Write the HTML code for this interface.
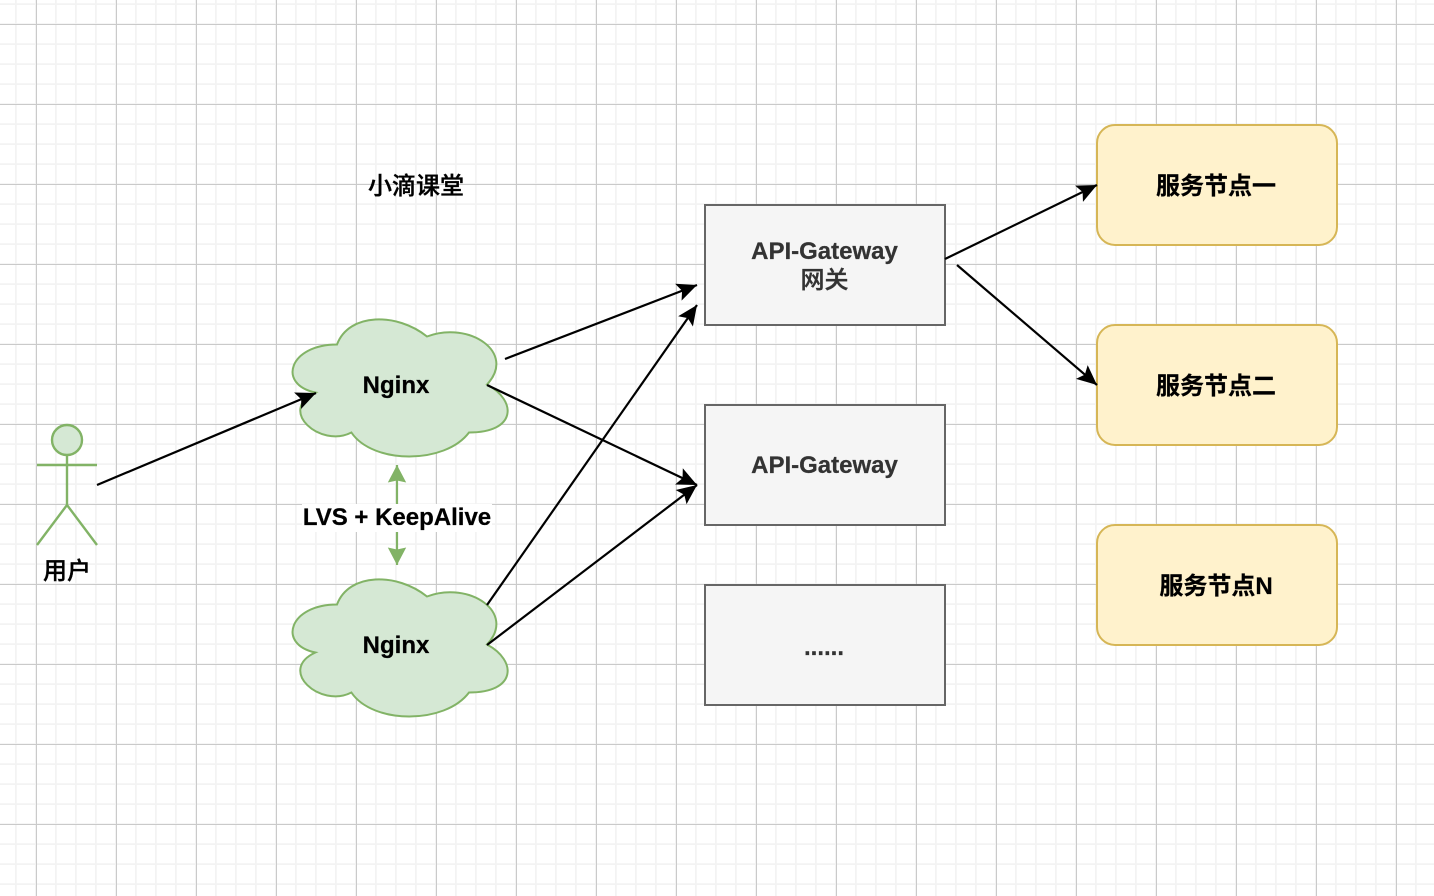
<!DOCTYPE html>
<html><head><meta charset="utf-8"><style>
html,body{margin:0;padding:0;background:#fff}
svg{display:block}
text{font-family:"Liberation Sans","Noto Sans CJK SC",sans-serif;font-size:24px;text-anchor:middle}
.b{font-weight:bold;stroke:currentColor;stroke-width:.25}
.m{font-weight:500;stroke:currentColor;stroke-width:.35}
</style></head><body>
<svg width="1434" height="896" viewBox="0 0 1434 896" xmlns="http://www.w3.org/2000/svg">
<defs>
<pattern id="minor" x="0" y="4" width="20" height="20" patternUnits="userSpaceOnUse">
<rect x="15" y="0" width="1.7" height="20" fill="#f3f3f3"/>
<rect x="0" y="0" width="20" height="1" fill="#f3f3f3"/>
<rect x="0" y="19.2" width="20" height=".8" fill="#f3f3f3"/>
</pattern>
<pattern id="major" x="36" y="24" width="80" height="80" patternUnits="userSpaceOnUse">
<rect x="0" y="0" width="1" height="80" fill="#cacaca"/>
<rect x="0" y="0" width="80" height="1" fill="#cacaca"/>
</pattern>
<marker id="ah" markerUnits="userSpaceOnUse" markerWidth="24" markerHeight="24" refX="21" refY="12" orient="auto">
<path d="M21,12 L1,3 L5,12 L1,21 Z" fill="#000"/>
</marker>
<marker id="gh" markerUnits="userSpaceOnUse" markerWidth="20" markerHeight="20" refX="18" refY="10" orient="auto-start-reverse">
<path d="M18,10 L0.5,0.8 L2.5,10 L0.5,19.2 Z" fill="#82b366"/>
</marker>
<path id="cloud" d="M60,40 C12,40 0,80 38.4,88 C0,105.6 43.2,144 74.4,128 C96,160 168,160 192,128 C240,128 240,96 210,80 C240,48 192,16 150,32 C120,8 72,8 60,40 Z" fill="#d5e8d4" stroke="#82b366" stroke-width="2"/>
</defs>
<rect width="1434" height="896" fill="#fff"/>
<rect width="1434" height="896" fill="url(#minor)"/>
<rect width="1434" height="896" fill="url(#major)"/>

<use href="#cloud" x="277" y="304.5"/>
<use href="#cloud" x="277" y="564.5"/>

<rect x="705" y="205" width="240" height="120" fill="#f5f5f5" stroke="#666" stroke-width="2"/>
<rect x="705" y="405" width="240" height="120" fill="#f5f5f5" stroke="#666" stroke-width="2"/>
<rect x="705" y="585" width="240" height="120" fill="#f5f5f5" stroke="#666" stroke-width="2"/>

<rect x="1097" y="125" width="240" height="120" rx="18" fill="#fff2cc" stroke="#d6b656" stroke-width="2"/>
<rect x="1097" y="325" width="240" height="120" rx="18" fill="#fff2cc" stroke="#d6b656" stroke-width="2"/>
<rect x="1097" y="525" width="240" height="120" rx="18" fill="#fff2cc" stroke="#d6b656" stroke-width="2"/>

<g fill="none" stroke="#82b366" stroke-width="2.4">
<circle cx="67" cy="440" r="15" fill="#d5e8d4"/>
<path d="M67,455 V505 M37,465 H97 M37,545 L67,505 L97,545"/>
</g>

<line x1="397" y1="565" x2="397" y2="465" stroke="#82b366" stroke-width="2.2" marker-start="url(#gh)" marker-end="url(#gh)"/>
<rect x="302" y="504" width="190" height="28" fill="#fff"/>

<g stroke="#000" stroke-width="2.2" fill="none">
<line x1="97" y1="485" x2="316" y2="393" marker-end="url(#ah)"/>
<line x1="505" y1="359" x2="697" y2="285" marker-end="url(#ah)"/>
<line x1="487" y1="385" x2="697" y2="485" marker-end="url(#ah)"/>
<line x1="487" y1="605" x2="697" y2="305" marker-end="url(#ah)"/>
<line x1="487" y1="645" x2="697" y2="485" marker-end="url(#ah)"/>
<line x1="945" y1="259" x2="1097" y2="185" marker-end="url(#ah)"/>
<line x1="957" y1="265" x2="1097" y2="385" marker-end="url(#ah)"/>
</g>

<text class="m" x="416" y="194" color="#000">小滴课堂</text>
<text class="m" x="67" y="579" color="#000">用户</text>
<text class="b" x="396" y="393" color="#000">Nginx</text>
<text class="b" x="396" y="653" color="#000">Nginx</text>
<text class="b" x="397" y="525" color="#000">LVS + KeepAlive</text>
<g fill="#333" color="#333">
<text class="b" x="824.5" y="259">API-Gateway</text>
<text class="m" x="824.5" y="288">网关</text>
<text class="b" x="824.5" y="473">API-Gateway</text>
<text class="b" x="824" y="655">......</text>
</g>
<text class="b" x="1216" y="194" color="#000">服务节点一</text>
<text class="b" x="1216" y="394" color="#000">服务节点二</text>
<text class="b" x="1216" y="594" color="#000">服务节点N</text>
</svg>
</body></html>
